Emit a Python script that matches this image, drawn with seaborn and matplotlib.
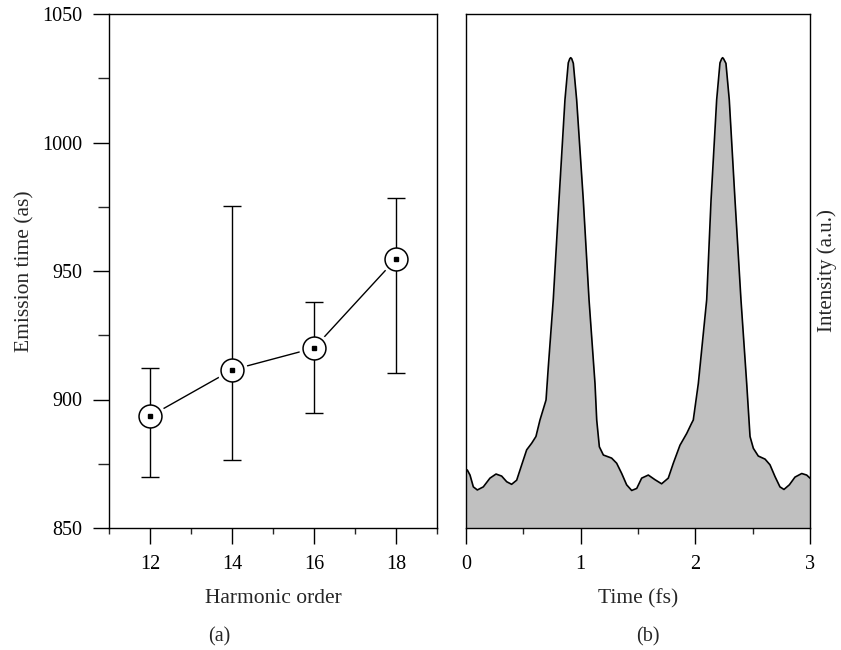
import numpy as np
import pandas as pd
import matplotlib
matplotlib.use("Agg")
from matplotlib import pyplot as plt
from matplotlib.ticker import MultipleLocator, NullLocator
import seaborn as sns

# 左图: 发射时间及误差
harmonic = [12, 14, 16, 18]
emission = [893.5, 911.5, 920.0, 954.7]
err_low = [869.7, 876.5, 894.6, 910.2]
err_high = [912.3, 975.3, 938.0, 978.4]

# 右图: 脉冲强度 (归一化, 读图估计)
time_fs = [0.0, 0.011, 0.035, 0.064, 0.099, 0.151, 0.209, 0.262, 0.311, 0.355,
           0.398, 0.442, 0.486, 0.529, 0.573, 0.610, 0.645, 0.698, 0.718, 0.761,
           0.811, 0.863, 0.892, 0.905, 0.913, 0.922, 0.936, 0.965, 1.023, 1.073,
           1.125, 1.140, 1.163, 1.198, 1.270, 1.314, 1.358, 1.401, 1.445, 1.489,
           1.532, 1.590, 1.648, 1.706, 1.764, 1.808, 1.866, 1.925, 1.968, 1.982,
           2.026, 2.099, 2.137, 2.186, 2.215, 2.230, 2.238, 2.246, 2.267, 2.296,
           2.346, 2.398, 2.448, 2.477, 2.506, 2.549, 2.608, 2.651, 2.695, 2.738,
           2.773, 2.820, 2.869, 2.928, 2.971, 3.0]
intensity = [0.110, 0.113, 0.103, 0.080, 0.074, 0.080, 0.097, 0.105, 0.101, 0.090,
             0.085, 0.093, 0.123, 0.152, 0.165, 0.178, 0.210, 0.249, 0.314, 0.444,
             0.638, 0.833, 0.905, 0.913, 0.915, 0.913, 0.904, 0.833, 0.638, 0.444,
             0.281, 0.210, 0.158, 0.142, 0.136, 0.126, 0.106, 0.084, 0.073, 0.077,
             0.097, 0.103, 0.094, 0.086, 0.097, 0.126, 0.161, 0.184, 0.204, 0.210,
             0.281, 0.444, 0.638, 0.833, 0.905, 0.913, 0.915, 0.913, 0.904, 0.833,
             0.638, 0.444, 0.281, 0.178, 0.155, 0.140, 0.134, 0.123, 0.100, 0.080,
             0.075, 0.084, 0.099, 0.106, 0.103, 0.097]

FS = 14.5
sns.set_theme(style="ticks")
plt.rcParams['font.family'] = ['Liberation Serif', 'DejaVu Serif']
plt.rcParams['font.size'] = FS
plt.rcParams['xtick.labelsize'] = FS
plt.rcParams['ytick.labelsize'] = FS
plt.rcParams['axes.labelsize'] = 15.5
plt.rcParams['axes.linewidth'] = 1.0
plt.rcParams['axes.edgecolor'] = 'black'

fig = plt.figure(figsize=(8.41, 6.5), dpi=100)
ax1 = fig.add_axes([109 / 841, 122 / 650, 328 / 841, 514 / 650])
ax2 = fig.add_axes([466 / 841, 122 / 650, 344 / 841, 514 / 650])

df1 = pd.DataFrame({"order": harmonic, "time": emission})
yerr = [np.array(emission) - np.array(err_low), np.array(err_high) - np.array(emission)]

# 连线
sns.lineplot(data=df1, x="order", y="time", ax=ax1, color='black', lw=1.0, zorder=1)
# 白色光晕, 让连线在圆外断开
ax1.plot(harmonic, emission, ls='none', marker='o', ms=21, mfc='white', mec='white', zorder=2)
ax1.errorbar(harmonic, emission, yerr=yerr, fmt='none', ecolor='black', elinewidth=1.0,
             capsize=6.5, capthick=1.0, zorder=3)
ax1.plot(harmonic, emission, ls='none', marker='o', ms=16.5, mfc='white', mec='black',
         mew=1.1, zorder=4)
ax1.plot(harmonic, emission, ls='none', marker='s', ms=3.2, color='black', zorder=5)

ax1.set_xlim(11, 19)
ax1.set_ylim(850, 1050)
ax1.xaxis.set_major_locator(MultipleLocator(2))
ax1.xaxis.set_minor_locator(MultipleLocator(1))
ax1.yaxis.set_major_locator(MultipleLocator(50))
ax1.yaxis.set_minor_locator(MultipleLocator(25))
ax1.tick_params(which='major', direction='out', length=11.5, width=1.0, colors='black')
ax1.tick_params(axis='x', which='major', pad=8)
ax1.tick_params(axis='y', which='major', pad=8)
ax1.tick_params(axis='x', which='minor', direction='out', length=4.5, width=1.0)
ax1.tick_params(axis='y', which='minor', direction='out', length=7.7, width=1.0)
ax1.set_xlabel("Harmonic order", labelpad=11)
ax1.set_ylabel("Emission time (as)", labelpad=5)
for s in ax1.spines.values():
    s.set_visible(True)

# 右图
df2 = pd.DataFrame({"t": time_fs, "I": intensity})
ax2.fill_between(df2["t"], 0, df2["I"], color='#c0c0c0', lw=0, zorder=1)
sns.lineplot(data=df2, x="t", y="I", ax=ax2, color='black', lw=1.2, zorder=2)
ax2.set_xlim(0, 3)
ax2.set_ylim(0, 1)
ax2.xaxis.set_major_locator(MultipleLocator(1))
ax2.xaxis.set_minor_locator(MultipleLocator(0.5))
ax2.yaxis.set_major_locator(NullLocator())
ax2.tick_params(which='major', direction='out', length=11.5, width=1.0, pad=8, colors='black')
ax2.tick_params(axis='x', which='minor', direction='out', length=4.5, width=1.0)
ax2.set_xlabel("Time (fs)", labelpad=11)
ax2.set_ylabel("Intensity (a.u.)", labelpad=5, fontsize=15)
ax2.yaxis.set_label_position('right')
for s in ax2.spines.values():
    s.set_visible(True)

fig.text(219 / 841, 1 - 637 / 650, "(a)", ha='center', va='center', fontsize=FS)
fig.text(648 / 841, 1 - 637 / 650, "(b)", ha='center', va='center', fontsize=FS)

fig.savefig("out.png", dpi=100)
